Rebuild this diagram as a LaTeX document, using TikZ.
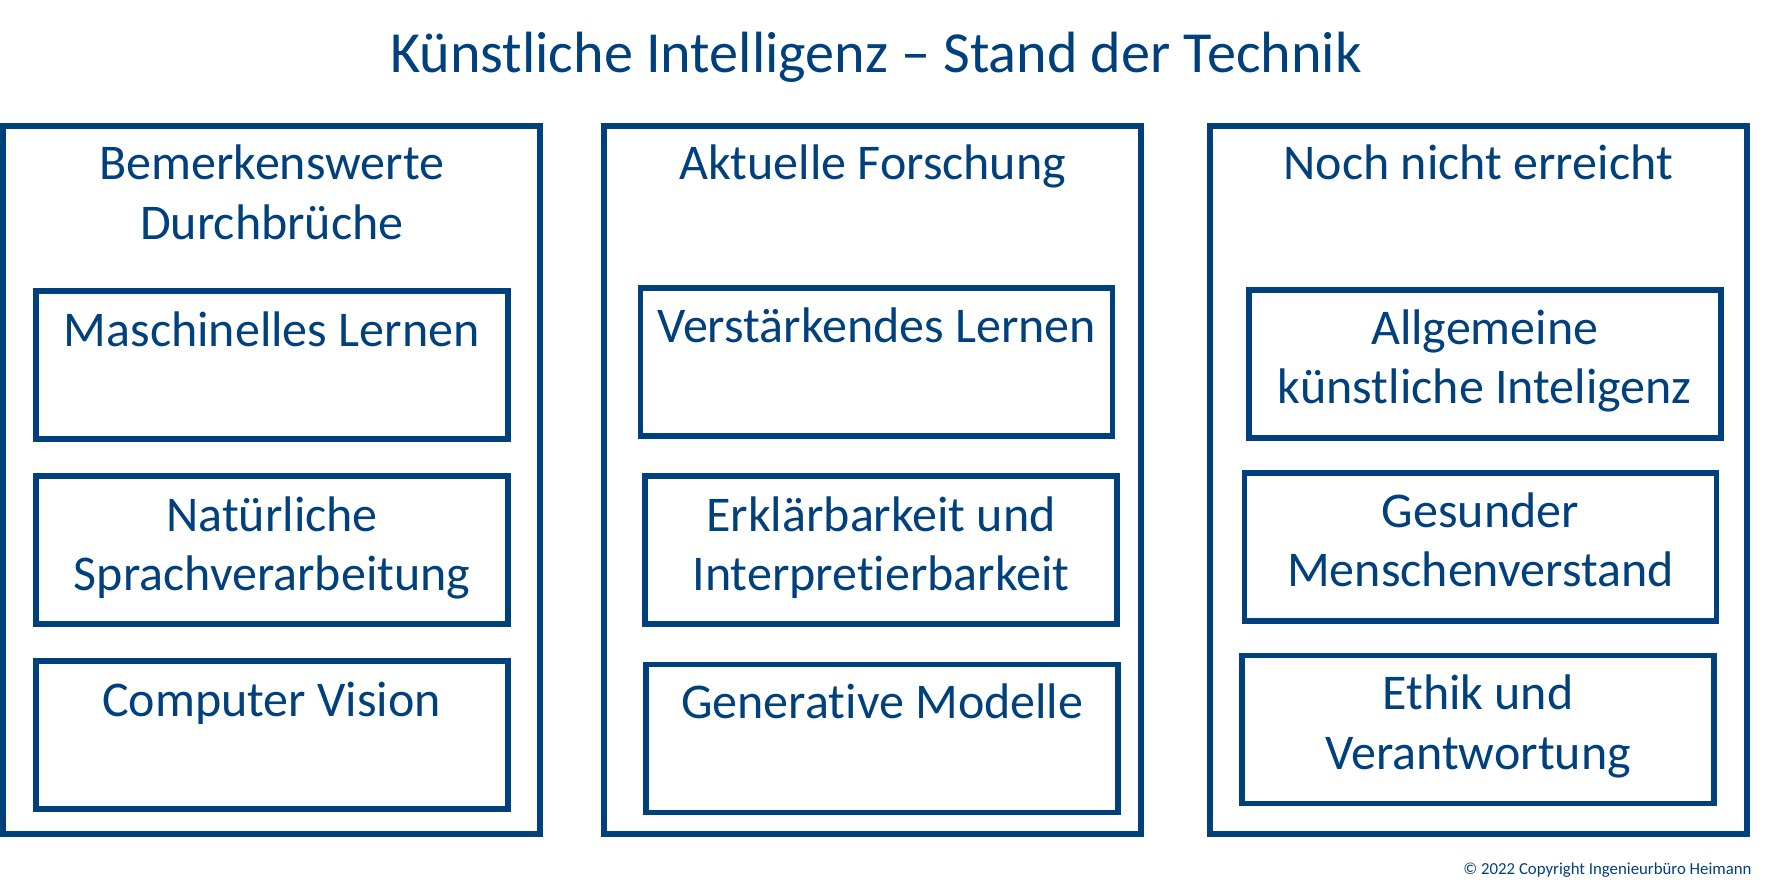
\documentclass[tikz,border=0pt]{standalone}
\usepackage{fontspec}
\setmainfont{Carlito}[Ligatures={NoCommon}]
\definecolor{kiblue}{RGB}{0,64,125}
\begin{document}
\begin{tikzpicture}[x=1pt,y=-1pt,
  outerbox/.style={draw=kiblue, line width=5.7pt, inner sep=0pt, minimum width=537pt, minimum height=708pt},
  innerbox/.style={draw=kiblue, line width=5.7pt, inner sep=0pt, minimum width=472pt, minimum height=148pt},
  txt/.style={text=kiblue, inner sep=0pt, anchor=base, font=\fontsize{50}{59}\selectfont},
  ttl/.style={text=kiblue, inner sep=0pt, anchor=base, font=\fontsize{58.2}{66}\selectfont},
  copy/.style={text=kiblue, inner sep=0pt, anchor=base east, font=\fontsize{16.8}{20}\selectfont}]
\useasboundingbox (0,0) rectangle (1770,890);
\fill[white] (0,0) rectangle (1770,890);

\node[ttl] (title) at (876,72.3) {Künstliche Intelligenz – Stand der Technik};

% columns
\node[outerbox] (colA) at (271.8,480) {};
\node[outerbox] (colB) at (872.7,480) {};
\node[outerbox] (colC) at (1478.2,480) {};

\node[txt] (hA1) at (271.8,180) {Bemerkenswerte};
\node[txt] (hA2) at (271.8,239.3) {Durchbrüche};
\node[txt] (hB) at (872.7,180) {Aktuelle Forschung};
\node[txt] (hC) at (1478.2,180) {Noch nicht erreicht};

% left column
\node[innerbox] (ml) at (271.7,365.2) {};
\node[txt] (mlt) at (271.7,346.7) {Maschinelles Lernen};
\node[innerbox] (nlp) at (272.1,550) {};
\node[txt] (nlpt1) at (272.1,531) {Natürliche};
\node[txt] (nlpt2) at (272.1,590) {Sprachverarbeitung};
\node[innerbox] (cv) at (271.7,735) {};
\node[txt] (cvt) at (271.7,716) {Computer Vision};

% middle column
\node[innerbox] (rl) at (876.6,361.8) {};
\node[txt] (rlt) at (876.6,342.7) {Verstärkendes Lernen};
\node[innerbox] (xai) at (881,550) {};
\node[txt] (xait1) at (881,531) {Erklärbarkeit und};
\node[txt] (xait2) at (881,590) {Interpretierbarkeit};
\node[innerbox] (gen) at (882.3,738.4) {};
\node[txt] (gent) at (882.3,718.3) {Generative Modelle};

% right column
\node[innerbox] (agi) at (1484.7,364.2) {};
\node[txt] (agit1) at (1484.7,345) {Allgemeine};
\node[txt] (agit2) at (1484.7,404) {künstliche Inteligenz};
\node[innerbox] (cs) at (1480.4,546.8) {};
\node[txt] (cst1) at (1480.4,527.3) {Gesunder};
\node[txt] (cst2) at (1480.4,586.7) {Menschenverstand};
\node[innerbox] (eth) at (1478,729.5) {};
\node[txt] (etht1) at (1478,709.3) {Ethik und};
\node[txt] (etht2) at (1478,769.3) {Verantwortung};

\node[copy] (cr) at (1751.7,874.3) {© 2022 Copyright Ingenieurbüro Heimann};
\end{tikzpicture}
\end{document}
